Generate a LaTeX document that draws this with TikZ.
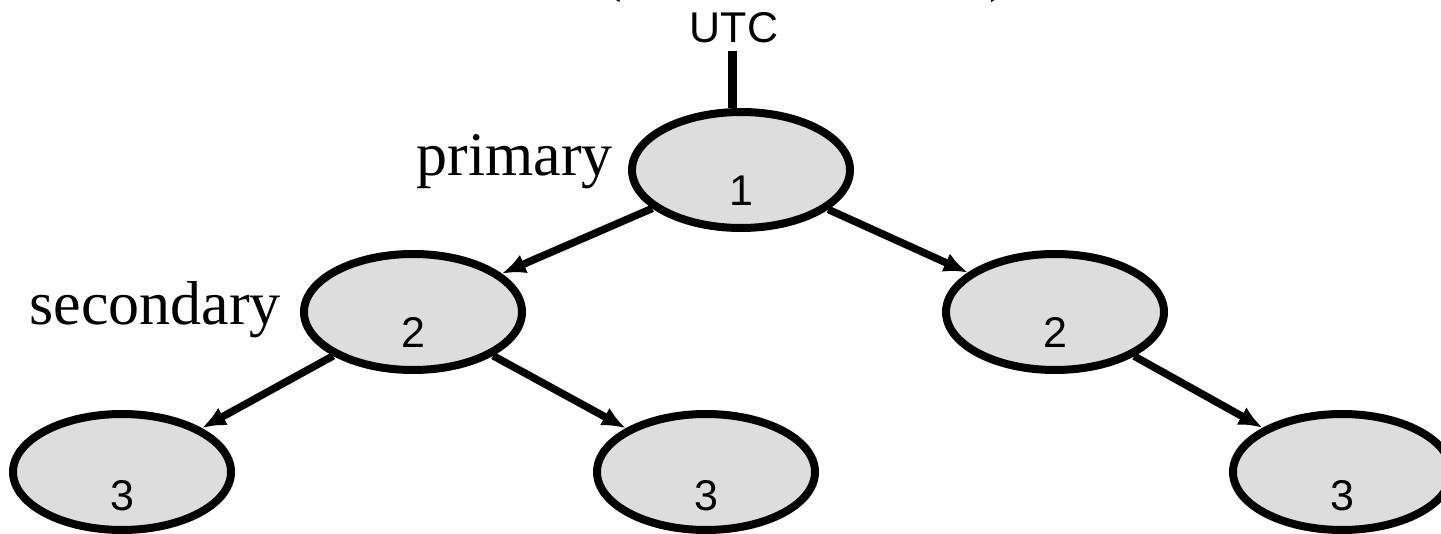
\documentclass[tikz,border=0pt]{standalone}
\usepackage{fontspec}
\setmainfont{Liberation Serif}
\newfontfamily\arialf{Liberation Sans}
\usetikzlibrary{shapes.geometric,arrows.meta}
\definecolor{nodegray}{HTML}{DDDDDD}
\begin{document}
\begin{tikzpicture}[x=1pt,y=-1pt,
  server/.style={ellipse,draw=black,line width=8pt,fill=nodegray,
    minimum width=218pt,minimum height=116pt,inner sep=0pt},
  num/.style={font=\arialf\fontsize{43}{43}\selectfont,anchor=base,inner sep=0pt},
  tier/.style={font=\fontsize{62}{62}\selectfont,anchor=base east,inner sep=0pt},
  paren/.style={font=\fontsize{62}{62}\selectfont,anchor=base,inner sep=0pt},
  link/.style={line width=7.5pt,-{Latex[length=24pt,width=20pt]}}]
\useasboundingbox (0,0) rectangle (1441,534);

% bracketed heading, mostly above the page
\node[paren] (lparen) at (612,-10.5) {(};
\node[paren] (rparen) at (1000,-10.5) {)};

% reference clock
\node[font=\arialf\fontsize{43}{43}\selectfont,anchor=base,inner sep=0pt] (utc) at (734,43) {UTC};
\coordinate (utcfoot) at (732,51);

% stratum tree
\node[server] (n1)  at (741,170) {};
\node[server] (n2a) at (413,312) {};
\node[server] (n2b) at (1055,312) {};
\node[server] (n3a) at (122,472) {};
\node[server] (n3b) at (706,472) {};
\node[server] (n3c) at (1342,472) {};

\node[num] (d1)  at ([yshift=-36pt]n1.center)  {1};
\node[num] (d2a) at ([yshift=-36pt]n2a.center) {2};
\node[num] (d2b) at ([yshift=-36pt]n2b.center) {2};
\node[num] (d3a) at ([yshift=-38pt]n3a.center) {3};
\node[num] (d3b) at ([yshift=-38pt]n3b.center) {3};
\node[num] (d3c) at ([yshift=-38pt]n3c.center) {3};

\node[tier] (lprimary)   at (613,176) {primary};
\node[tier] (lsecondary) at (281,325) {secondary};

% links
\draw[line width=9pt] (utcfoot) -- (utcfoot |- n1.north);
\draw[link] (n1)  -- (n2a);
\draw[link] (n1)  -- (n2b);
\draw[link] (n2a) -- (n3a);
\draw[link] (n2a) -- (n3b);
\draw[link] (n2b) -- (n3c);
\end{tikzpicture}
\end{document}
